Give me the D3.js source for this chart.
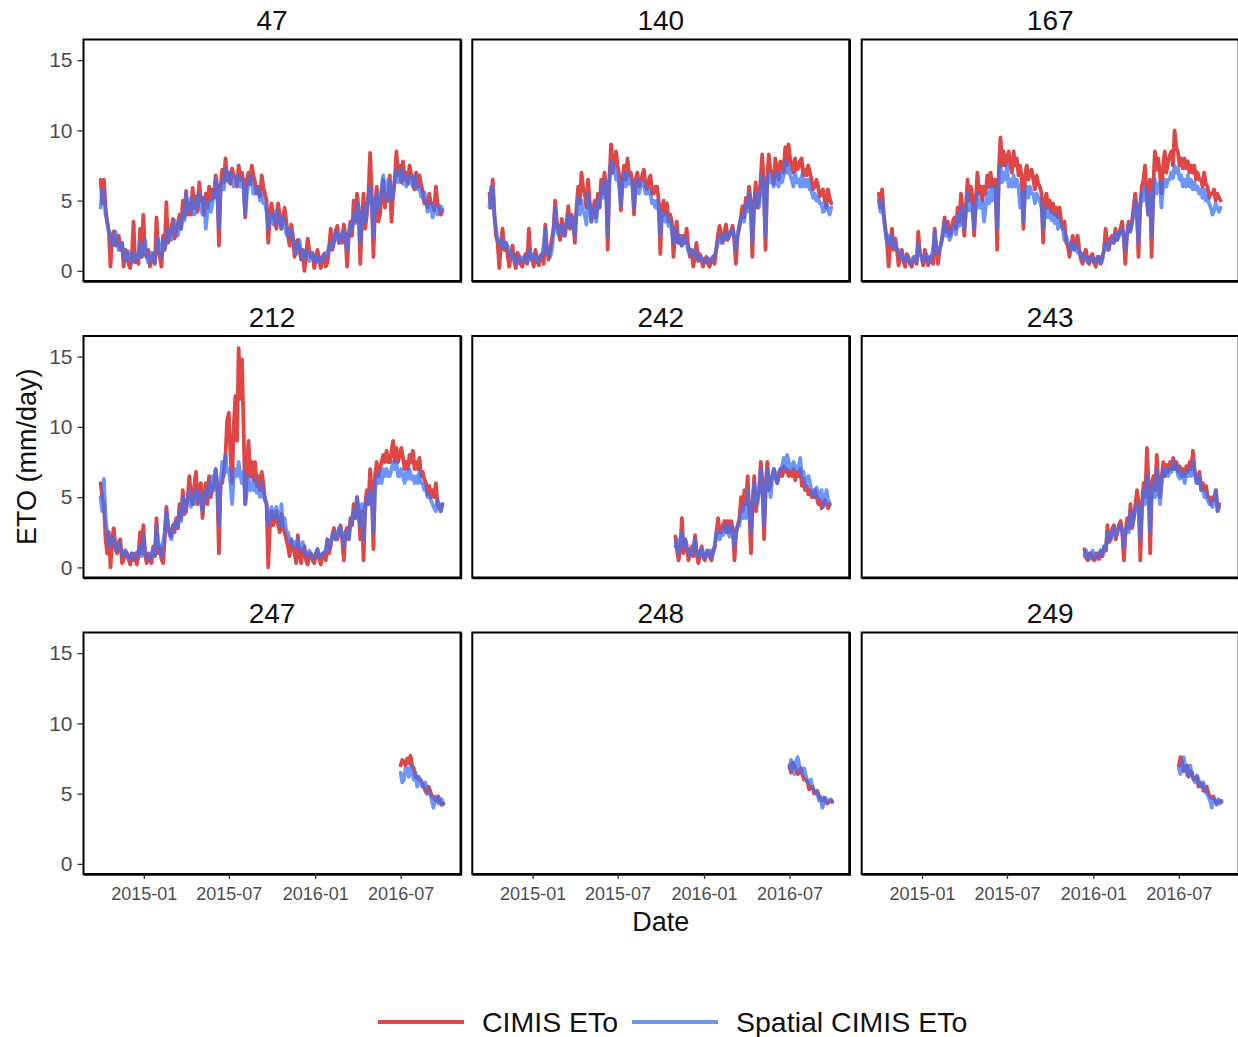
<!DOCTYPE html>
<html>
<head>
<meta charset="utf-8">
<script src="https://cdn.jsdelivr.net/npm/d3@7"></script>
<style>
  body { margin: 0; background: #fff; }
  svg { display: block; }
  text { font-family: "Liberation Sans", Arial, Helvetica, sans-serif; }
</style>
</head>
<body>
<svg id="chart" width="1238" height="1037"></svg>
<script>
// ---- Data: ETo (mm/day) per CIMIS station, 2014-10 to 2016-09 ----
// Each series has on-week readings (every 7 days from its start date)
// and mid-week readings (3.5 days after each on-week reading).
const stations = ["47", "140", "167", "212", "242", "243", "247", "248", "249"];
const seriesStart = ["2014-10-01", "2014-10-01", "2014-10-01", "2014-10-01",
                     "2015-11-01", "2015-12-13", "2016-07-01", "2016-07-01", "2016-07-01"];
const stepDays = 7;
const seriesNames = ["CIMIS ETo", "Spatial CIMIS ETo"];

const cimis47 = [6.5,6.5,3.5,0.3,2.8,2.2,1.5,0.3,1.3,0.2, 3.5,1.0,3.0,4.0,1.0,0.3,1.2,3.8,1.0,2.5,
  4.9,2.5,3.7,2.8,4.0,5.0,5.7,4.8,5.9,5.3, 6.3,5.2,5.5,6.0,5.8,6.8,1.8,7.2,8.0,7.0,
  7.3,6.7,7.5,7.0,3.8,7.0,7.5,6.3,6.0,6.8, 5.5,2.0,4.8,3.5,4.8,3.0,4.5,2.5,3.3,1.0,
  2.2,0.8,0.0,2.3,1.0,0.2,1.5,0.2,1.2,0.6, 3.0,2.0,3.2,2.5,3.3,0.3,3.5,5.0,5.5,0.5,
  5.5,4.0,8.4,1.0,6.0,4.0,6.5,5.5,6.8,5.5, 8.5,7.5,7.8,7.0,7.5,6.5,7.0,6.8,5.6,5.0,
  5.5,4.8,6.0,4.5,4.3];
const cimis47Mid = [4.8,4.5,2.8,2.5,1.8,2.5,2.0,1.5,0.5,1.0, 0.6,0.5,1.0,1.2,1.5,0.8,0.5,1.5,0.3,1.5,
  2.0,3.0,2.3,3.3,3.0,3.8,4.0,4.0,4.5,4.2, 5.0,4.0,4.5,5.0,5.2,6.0,6.0,6.3,6.5,6.2,
  6.8,6.0,6.5,6.3,6.5,6.2,6.8,5.5,5.3,6.0, 5.0,4.0,4.0,3.0,4.0,3.8,3.5,1.8,2.5,2.0,
  1.5,1.5,1.0,1.5,1.2,0.8,0.8,1.0,0.3,1.5, 1.5,2.8,2.0,2.0,2.5,2.5,2.5,3.5,4.5,3.5,
  3.0,5.5,5.5,4.5,3.5,5.5,4.5,5.0,3.5,6.5, 6.8,6.3,6.5,6.2,6.8,5.8,6.0,6.2,4.8,4.5,
  4.8,4.3,4.8,4.0];
const spatial47 = [4.5,5.5,3.5,2.5,2.3,2.0,1.6,1.2,1.0,0.9, 1.2,0.9,2.0,1.5,1.0,0.8,0.9,1.5,1.5,2.2,
  2.0,2.8,3.0,3.0,3.5,4.2,5.5,4.3,5.0,4.3, 5.5,4.0,3.0,5.0,4.8,6.5,3.0,6.5,7.3,6.3,
  6.8,6.2,6.5,6.6,4.0,6.2,6.3,5.5,5.8,5.5, 4.8,3.0,4.0,3.3,4.0,3.0,3.3,2.5,2.8,1.8,
  1.8,1.3,1.0,1.2,1.0,0.8,1.0,0.7,0.8,1.2, 2.0,2.3,2.5,2.3,2.8,1.5,3.3,4.0,4.8,2.0,
  4.5,4.5,6.0,2.5,5.5,5.0,6.8,5.0,6.2,5.3, 7.2,6.5,6.2,6.0,6.8,6.0,6.2,6.0,5.2,5.0,
  4.5,3.8,4.6,4.3,4.4];
const spatial47Mid = [5.8,4.0,2.8,1.8,2.8,1.5,2.0,0.7,1.4,0.6, 0.7,1.3,1.0,2.2,0.6,1.3,0.6,2.3,1.0,1.6,
  3.0,2.2,3.6,2.5,3.0,3.6,4.3,5.2,4.0,5.0, 4.5,5.2,4.3,4.2,5.5,5.5,5.8,5.8,6.5,7.0,
  6.0,6.8,6.0,5.8,5.5,6.8,5.5,6.0,5.0,4.8, 4.2,3.8,3.3,4.3,3.5,3.8,2.6,3.0,2.2,1.2,
  2.2,0.8,1.5,0.7,1.3,0.6,0.6,1.0,1.3,1.8, 1.6,2.8,2.0,2.8,2.2,2.6,3.0,3.4,4.0,4.0,
  3.5,5.3,4.5,4.5,4.5,6.0,5.5,6.5,5.0,6.5, 6.3,7.2,6.8,6.5,6.3,6.8,5.8,5.3,5.6,4.2,
  4.8,4.3,4.0,4.6];

const cimis140 = [5.5,6.5,2.5,0.2,3.0,2.0,0.3,1.8,0.2,1.0, 0.3,1.2,3.0,0.8,1.5,0.4,1.2,3.3,0.8,2.3,
  5.0,2.8,3.7,2.5,4.6,4.0,2.0,6.0,7.0,5.5, 6.5,3.5,5.0,5.5,6.5,7.0,1.5,9.0,8.0,7.5,
  4.3,7.5,8.0,7.0,4.0,7.0,6.3,7.2,5.8,6.8, 5.5,6.0,1.2,5.0,4.8,4.0,1.0,3.5,2.5,2.5,
  3.0,1.0,0.3,2.0,1.2,0.3,1.0,0.3,1.0,1.5, 3.2,2.0,3.3,2.5,3.2,0.5,3.0,4.6,5.2,6.0,
  1.0,6.3,5.0,8.3,1.5,8.3,7.0,8.0,6.5,7.5, 8.8,9.0,7.5,8.0,7.3,8.0,7.2,7.5,6.5,6.0,
  6.0,5.5,5.0,5.8,4.8];
const cimis140Mid = [4.5,4.0,2.0,2.0,1.5,1.2,1.0,0.8,1.3,0.5, 0.8,0.5,1.0,0.3,0.8,1.0,0.5,1.5,1.5,3.0,
  3.5,2.2,3.0,3.5,3.0,3.5,4.5,4.8,6.0,4.5, 5.0,4.2,3.8,4.5,5.5,6.0,6.5,7.0,8.5,6.8,
  6.5,6.5,6.8,6.3,6.5,6.0,6.8,6.0,6.5,5.5, 6.0,5.0,4.5,4.0,3.5,3.5,2.8,2.0,1.8,2.0,
  1.8,1.5,1.0,0.7,0.8,0.8,0.5,0.8,0.5,2.5, 2.5,2.8,2.2,2.8,2.2,2.5,3.8,3.8,4.5,5.0,
  4.5,4.5,6.5,6.0,6.5,7.2,6.2,7.0,7.8,7.0, 7.5,8.0,7.0,7.2,7.8,6.8,6.8,7.0,5.8,6.5,
  5.3,5.8,4.5,5.2];
const spatial140 = [4.5,6.0,3.0,2.0,2.3,2.0,1.5,1.0,0.7,0.8, 0.7,0.9,1.5,1.0,0.9,0.8,1.0,3.0,1.5,1.5,
  4.5,2.6,3.3,2.8,4.0,3.8,2.5,5.3,5.0,4.0, 5.5,3.5,4.3,5.0,6.0,6.5,2.5,7.8,7.5,6.8,
  4.6,7.0,7.0,6.5,4.5,6.5,6.0,6.3,5.5,5.5, 5.0,5.0,2.5,4.0,4.0,3.5,2.0,2.5,2.5,2.0,
  2.0,1.5,1.2,1.2,0.8,0.8,0.7,0.8,0.9,1.5, 2.5,2.5,2.7,2.5,3.0,1.5,3.3,4.0,4.8,5.5,
  2.0,5.5,4.5,6.8,2.5,7.0,6.5,7.0,6.0,6.3, 7.8,7.5,6.5,7.0,6.5,6.8,6.5,6.5,5.7,5.5,
  5.3,4.8,4.3,4.5,4.5];
const spatial140Mid = [6.0,4.0,2.2,1.8,1.6,1.8,0.9,1.2,0.5,1.0, 1.0,0.6,0.8,1.2,0.6,1.1,1.8,1.2,1.0,2.8,
  3.0,3.2,2.5,3.3,3.2,3.0,4.2,4.0,4.2,3.3, 4.5,4.5,3.5,4.5,5.2,6.0,6.5,7.0,6.5,6.0,
  6.3,6.0,6.2,6.0,5.8,5.5,6.3,5.5,5.8,4.8, 4.5,4.2,4.2,3.5,3.2,2.8,3.0,2.0,1.8,2.4,
  1.4,1.0,1.5,0.8,1.0,0.6,0.9,0.6,1.1,2.0, 2.0,2.2,2.4,2.8,2.4,2.5,3.6,3.5,4.2,4.5,
  4.8,4.8,5.8,5.5,6.0,6.3,6.0,6.3,7.0,6.8, 7.0,6.8,6.0,6.3,6.0,6.0,6.0,5.8,5.2,5.0,
  4.8,4.2,4.8,4.0];

const cimis167 = [5.5,5.8,3.0,0.3,3.0,2.3,0.4,1.5,0.3,1.0, 0.3,1.0,2.8,1.0,1.5,0.4,1.0,3.0,0.5,2.0,
  3.8,3.5,2.8,3.8,4.5,5.5,2.5,6.5,6.0,2.5, 7.0,6.0,6.0,6.8,7.0,6.5,1.5,9.5,8.5,8.0,
  7.5,8.5,8.0,7.5,3.0,7.5,7.0,6.5,6.8,6.0, 2.0,5.5,5.0,4.8,4.5,4.5,3.0,2.0,1.0,2.5,
  2.0,1.5,0.5,1.5,0.5,1.2,0.3,1.0,0.8,3.0, 1.5,2.5,3.0,2.5,3.5,0.5,3.5,3.5,5.5,1.0,
  6.0,7.5,4.0,1.0,8.5,8.0,5.5,8.5,7.8,8.5, 10.0,8.5,8.0,8.0,7.8,7.5,7.5,7.0,6.5,7.0,
  6.0,5.5,5.8,5.5,5.0];
const cimis167Mid = [4.5,4.0,2.0,2.0,1.5,1.5,1.0,0.7,1.2,0.5, 0.8,0.5,1.2,0.4,0.8,1.0,0.5,1.5,1.5,2.8,
  2.8,2.5,3.5,3.0,3.5,4.5,4.5,5.0,5.3,5.0, 5.5,5.0,5.5,6.0,6.0,6.5,7.0,7.5,7.5,8.5,
  7.0,7.5,6.8,6.5,6.8,6.5,7.2,5.8,6.2,5.5, 5.0,4.5,4.2,4.0,3.8,3.5,3.5,1.8,1.8,1.5,
  2.5,0.8,1.2,0.8,1.0,0.6,0.9,0.5,1.5,2.0, 2.3,2.0,2.2,3.0,2.5,2.5,2.8,4.5,4.5,4.5,
  6.5,5.5,6.5,6.0,7.2,7.0,7.5,7.0,8.2,7.5, 8.8,7.5,7.3,7.3,7.0,7.0,6.5,6.5,6.0,6.2,
  5.2,5.5,5.0,5.2];
const spatial167 = [5.0,5.0,2.8,2.5,2.5,2.0,1.5,1.2,0.8,0.8, 0.7,1.0,2.0,1.0,1.0,0.8,1.0,2.8,1.2,2.0,
  3.5,3.0,2.5,3.3,4.0,4.5,3.0,5.5,4.8,3.0, 5.5,4.5,3.5,5.5,6.0,6.0,3.0,7.5,7.0,7.5,
  6.5,6.8,6.5,4.5,3.5,6.0,6.0,5.5,5.5,5.0, 3.0,4.5,4.3,4.0,4.0,3.5,3.0,2.5,2.0,2.0,
  1.8,1.5,1.2,1.0,0.8,0.8,0.7,0.8,1.0,2.0, 1.8,2.3,2.7,2.5,3.0,1.5,3.3,3.3,5.0,2.0,
  5.5,6.0,4.0,2.5,6.5,6.0,4.5,6.5,6.5,7.0, 7.5,7.3,6.8,6.5,6.8,6.5,6.3,6.0,5.8,5.8,
  5.2,4.5,4.3,4.5,4.5];
const spatial167Mid = [4.2,3.8,2.0,1.8,1.7,1.5,1.0,0.7,1.1,0.5, 1.0,0.6,1.2,0.6,1.2,0.6,1.5,1.5,1.5,2.5,
  2.5,2.2,3.0,2.6,3.2,3.5,4.2,4.3,4.2,4.5, 4.5,5.0,4.5,4.8,5.0,5.5,6.5,6.3,6.5,6.0,
  6.0,6.0,6.0,5.5,5.5,5.2,5.5,4.8,5.2,4.5, 4.0,3.8,3.6,3.4,3.0,3.2,2.2,2.0,1.5,1.5,
  1.3,1.0,0.8,0.6,1.0,0.6,1.0,0.6,1.5,1.5, 2.0,2.0,2.2,2.8,2.4,2.5,2.8,4.0,4.2,4.5,
  5.0,5.0,5.5,5.0,5.5,6.3,6.0,6.0,6.5,6.6, 7.0,6.5,6.0,6.0,6.0,5.8,5.8,5.5,5.2,5.0,
  4.8,4.0,4.8,4.2];

const cimis212 = [6.0,4.5,1.0,0.0,2.8,1.0,2.0,0.5,1.0,0.2, 0.5,0.2,2.5,3.0,0.3,0.5,1.5,3.5,1.5,0.3,
  4.3,2.5,3.0,3.5,4.5,5.5,4.0,6.5,4.5,6.8, 5.8,3.5,6.0,6.5,5.5,7.0,1.0,6.0,8.0,11.0,
  6.0,12.2,15.6,14.8,4.5,9.0,7.5,7.5,6.5,6.8, 4.8,0.0,4.0,3.5,3.0,3.8,2.5,1.5,2.0,1.0,
  2.3,0.3,1.5,0.2,1.0,0.3,1.3,0.2,1.0,2.0, 1.5,2.8,2.0,3.0,0.5,2.8,3.5,4.5,5.0,2.0,
  0.5,5.5,7.0,1.3,7.5,7.0,8.0,8.3,7.5,9.0, 8.5,8.0,7.8,7.5,8.0,8.3,7.5,7.8,6.8,6.0,
  5.8,5.5,6.0,4.3,4.5];
const cimis212Mid = [5.0,2.0,2.5,2.0,1.5,1.8,0.3,1.2,0.6,1.0, 1.0,0.8,1.0,1.0,1.0,0.3,0.8,1.0,0.6,2.0,
  3.0,2.2,2.5,2.8,3.5,3.8,5.0,5.0,5.8,4.5, 6.0,5.0,4.5,5.0,6.0,5.5,6.0,7.0,10.5,8.0,
  10.0,9.0,12.0,10.0,7.0,6.5,6.2,5.8,5.5,6.0, 4.5,3.0,3.0,4.0,2.5,2.8,2.0,0.8,1.5,0.3,
  1.0,1.2,0.5,1.0,0.5,1.0,0.6,1.0,0.5,1.0, 2.3,2.0,2.5,2.0,2.5,2.0,3.0,3.5,4.0,4.0,
  4.5,4.5,5.5,6.5,6.5,7.5,7.5,7.5,8.3,7.5, 7.5,8.5,7.0,7.0,7.5,7.0,7.0,6.5,6.3,5.2,
  5.0,5.0,4.5,4.0];
const spatial212 = [5.0,6.3,2.5,1.8,2.0,1.5,1.5,1.0,0.9,0.8, 0.8,1.0,1.5,2.3,0.8,0.7,1.3,3.0,1.5,1.8,
  4.0,2.3,2.8,3.3,4.0,5.0,4.3,5.5,5.0,5.5, 5.3,4.0,5.5,6.0,6.5,7.0,3.0,7.5,8.0,7.0,
  4.5,7.0,7.5,6.0,4.5,6.5,6.0,6.3,5.5,6.0, 5.0,3.0,4.3,4.0,3.5,4.5,3.5,2.5,2.0,1.8,
  2.0,1.3,1.3,1.0,0.9,0.8,1.3,0.8,1.0,2.0, 1.8,2.5,2.3,2.8,1.5,2.5,3.0,4.0,5.0,3.0,
  2.0,5.0,5.5,2.5,6.5,6.8,7.0,7.0,6.5,7.5, 7.5,6.5,6.5,6.8,7.0,6.5,6.5,6.8,6.0,5.5,
  5.0,4.5,4.0,4.5,4.5];
const spatial212Mid = [4.0,3.5,1.5,2.2,1.2,1.8,0.8,1.2,0.6,1.0, 0.6,1.2,0.8,1.2,0.5,1.0,0.8,1.8,0.8,2.5,
  2.8,2.0,3.2,2.8,3.3,4.0,5.0,4.3,4.5,4.8, 4.5,5.0,5.0,5.3,5.5,6.0,6.0,6.5,6.8,6.0,
  6.5,6.5,6.5,6.8,5.5,5.5,5.5,5.3,5.0,5.0, 4.5,3.8,3.5,4.3,3.0,3.0,2.5,1.8,1.5,1.5,
  1.2,1.8,0.8,1.2,0.6,1.0,0.7,1.0,1.3,1.3, 2.2,2.0,2.8,2.2,2.5,2.0,3.5,3.5,4.0,4.5,
  4.0,4.5,5.0,5.5,6.0,6.0,6.5,6.5,7.0,7.0, 6.5,7.0,6.0,6.3,6.3,6.0,6.0,6.0,5.5,5.0,
  4.8,4.2,4.8,4.0];

const cimis242 = [2.2,0.5,3.5,2.0,0.5,1.5,2.3,0.3,1.5,0.5, 1.2,0.5,1.5,3.5,2.5,3.3,3.3,3.3,0.5,3.0,
  5.0,5.5,6.5,1.0,6.5,5.0,7.5,2.0,7.5,6.0, 7.0,6.0,7.0,7.2,7.0,6.8,7.0,6.8,7.0,6.3,
  5.8,5.5,5.0,5.0,4.8,4.5,4.5,4.5];
const cimis242Mid = [1.2,1.5,1.0,1.5,1.0,0.8,1.0,1.0,0.8,1.0, 0.8,1.2,2.5,2.5,3.0,2.5,2.5,2.8,2.5,3.5,
  4.0,4.5,4.0,4.5,4.0,5.5,6.0,6.0,5.5,6.5, 6.5,6.5,6.5,6.8,6.5,6.5,6.2,6.5,5.8,5.5,
  5.2,5.0,5.5,4.5,4.2,4.8,4.2];
const spatial242 = [1.5,1.0,2.5,2.0,1.3,1.0,2.0,0.8,1.3,0.8, 1.0,1.2,1.5,2.5,2.5,3.0,2.5,3.0,1.5,3.0,
  4.0,4.5,5.5,2.5,6.0,4.5,7.0,3.0,7.0,5.0, 7.0,6.0,7.0,7.8,8.0,7.0,7.5,7.2,7.8,6.8,
  6.3,6.0,5.5,5.7,5.0,4.3,5.5,4.5];
const spatial242Mid = [2.0,1.5,1.5,1.2,0.8,1.5,1.0,1.2,0.7,1.2, 0.7,1.0,2.5,2.0,2.3,3.0,2.2,2.5,2.5,3.0,
  3.5,3.5,4.0,4.5,5.0,5.5,5.5,5.5,6.0,6.5, 6.3,6.8,7.2,7.0,7.5,7.2,7.0,7.0,6.5,5.8,
  6.5,5.2,5.0,5.0,5.5,4.8,4.8];

const cimis243 = [1.3,0.5,1.0,0.5,1.0,1.2,1.5,3.0,2.0,3.0, 2.5,3.3,0.5,3.5,4.5,3.5,5.5,0.5,6.0,8.5,
  1.0,6.5,8.0,5.0,7.5,7.3,7.5,7.8,7.5,7.2, 7.0,7.2,7.5,8.3,6.3,6.8,6.0,5.8,5.0,5.0,
  5.5,4.5];
const cimis243Mid = [0.7,1.0,0.6,1.0,0.6,0.8,1.2,1.8,2.8,2.0, 3.0,2.5,2.5,2.8,2.8,4.5,4.5,4.5,5.0,6.0,
  6.0,5.5,6.0,6.5,6.5,6.8,7.0,7.0,6.8,6.5, 6.5,6.8,7.0,7.0,6.0,5.5,5.5,5.0,4.5,4.8,
  4.0];
const spatial243 = [0.8,0.8,1.0,0.8,0.8,1.2,1.5,2.5,2.0,2.8, 2.5,3.0,1.5,3.0,4.0,3.5,4.5,2.0,5.5,6.5,
  2.5,6.0,7.0,4.5,7.0,7.0,7.0,7.5,7.3,6.3, 6.5,6.8,7.0,7.5,6.0,6.5,5.5,5.3,4.5,4.3,
  5.5,4.3];
const spatial243Mid = [1.2,0.6,1.2,0.6,1.0,0.9,1.2,2.0,2.6,2.2, 2.8,2.5,2.5,2.5,3.0,4.2,4.0,4.0,4.5,5.5,
  5.5,5.0,5.5,6.0,6.5,6.5,6.8,7.0,6.5,6.8, 6.0,6.5,6.5,6.8,6.2,5.5,5.0,4.8,4.5,4.8,
  4.0];

const cimis247 = [7.0,7.3,7.5,7.7,6.8,6.2,6.0,5.5,5.0,5.2,4.8,4.5,4.4,4.3];
const cimis247Mid = [7.4,7.0,7.2,7.0,6.2,6.0,5.8,5.2,5.5,4.8,4.6,4.8,4.2];
const spatial247 = [6.5,6.0,6.8,7.0,6.0,5.5,6.0,5.5,5.3,5.0,4.0,4.8,4.5,4.3];
const spatial247Mid = [5.8,6.8,6.2,6.5,6.5,6.2,5.5,5.8,5.0,4.5,4.6,4.3,4.6];
const cimis248 = [7.0,7.2,6.8,6.5,6.3,6.0,5.3,5.5,5.0,4.8,4.5,4.5,4.4,4.4];
const cimis248Mid = [6.5,7.0,6.4,6.8,6.0,5.8,5.5,5.0,5.2,4.6,4.7,4.3,4.5];
const spatial248 = [6.8,7.0,7.3,7.0,6.5,6.3,5.8,5.5,5.2,4.5,4.0,4.7,4.5,4.5];
const spatial248Mid = [7.4,6.4,7.6,6.5,6.8,5.8,6.0,5.2,5.0,4.8,4.3,4.4,4.6];
const cimis249 = [7.0,7.2,6.8,6.2,6.5,6.0,5.5,5.7,5.2,5.0,4.7,4.5,4.4,4.4];
const cimis249Mid = [7.6,6.6,7.0,6.6,6.0,6.2,5.8,5.2,5.5,4.8,4.8,4.3,4.5];
const spatial249 = [6.8,7.2,6.8,6.5,6.3,5.8,6.0,5.5,5.3,4.8,4.0,4.5,4.6,4.5];
const spatial249Mid = [6.4,7.6,6.3,7.0,6.0,6.3,5.5,5.8,5.0,4.5,4.6,4.2,4.3];

const cimisValues = [cimis47, cimis140, cimis167, cimis212, cimis242, cimis243, cimis247, cimis248, cimis249];
const cimisMidValues = [cimis47Mid, cimis140Mid, cimis167Mid, cimis212Mid, cimis242Mid, cimis243Mid,
                        cimis247Mid, cimis248Mid, cimis249Mid];
const spatialValues = [spatial47, spatial140, spatial167, spatial212, spatial242, spatial243,
                       spatial247, spatial248, spatial249];
const spatialMidValues = [spatial47Mid, spatial140Mid, spatial167Mid, spatial212Mid, spatial242Mid,
                          spatial243Mid, spatial247Mid, spatial248Mid, spatial249Mid];

const xTickLabels = ["2015-01", "2015-07", "2016-01", "2016-07"];
const yTicks = [0, 5, 10, 15];
const dataRange = ["2014-10-01", "2016-09-30"];

// ---- Layout ----
const colX = [83.5, 472.3, 861.7];
const rowY = [39.5, 336, 632.5];
const pw = 377, ph = 241.5;
const colors = { cimis: "#DF4747", spatial: "#3E72F6" };
const spatialAlpha = 0.75;
const lineWidth = 3.8;
const fontAxis = "#4D4D4D";

const parse = d3.utcParse("%Y-%m-%d");
const parseMonth = d3.utcParse("%Y-%m");
const svg = d3.select("#chart");

// x domain: data extent expanded by 5% on each side
const d0 = parse(dataRange[0]), d1 = parse(dataRange[1]);
const pad = (d1 - d0) * 0.05;
const x = d3.scaleUtc().domain([new Date(+d0 - pad), new Date(+d1 + pad)]).range([0, pw]);
const y = d3.scaleLinear().domain([-0.72, 16.47]).range([ph, 0]);

const line = d3.line()
  .x(d => x(d.date))
  .y(d => y(d.v))
  .curve(d3.curveLinear);

// merge on-week and mid-week readings into one dated series
function toSeries(values, mids, start) {
  const s = parse(start);
  const out = [];
  values.forEach((v, i) => {
    out.push({ date: d3.utcDay.offset(s, i * stepDays), v });
    if (i < mids.length) {
      out.push({ date: d3.utcHour.offset(s, i * stepDays * 24 + stepDays * 12), v: mids[i] });
    }
  });
  return out;
}

const defs = svg.append("defs");
defs.append("clipPath").attr("id", "panel-clip")
  .append("rect").attr("x", 0).attr("y", 0).attr("width", pw).attr("height", ph);

stations.forEach((st, k) => {
  const c = k % 3, r = Math.floor(k / 3);
  const g = svg.append("g").attr("transform", `translate(${colX[c]},${rowY[r]})`);

  // strip label
  g.append("text")
    .attr("x", pw / 2).attr("y", -9.5)
    .attr("text-anchor", "middle")
    .attr("font-size", 28).attr("fill", "#111")
    .text(st);

  const plot = g.append("g").attr("clip-path", "url(#panel-clip)");
  plot.append("path")
    .datum(toSeries(cimisValues[k], cimisMidValues[k], seriesStart[k]))
    .attr("d", line)
    .attr("fill", "none")
    .attr("stroke", colors.cimis)
    .attr("stroke-width", lineWidth)
    .attr("stroke-linejoin", "round")
    .attr("stroke-linecap", "round");
  plot.append("path")
    .datum(toSeries(spatialValues[k], spatialMidValues[k], seriesStart[k]))
    .attr("d", line)
    .attr("fill", "none")
    .attr("stroke", colors.spatial)
    .attr("stroke-opacity", spatialAlpha)
    .attr("stroke-width", lineWidth)
    .attr("stroke-linejoin", "round")
    .attr("stroke-linecap", "round");

  // panel border
  g.append("rect")
    .attr("x", 0).attr("y", 0).attr("width", pw).attr("height", ph)
    .attr("fill", "none").attr("stroke", "#000").attr("stroke-width", 2);
  g.append("path")
    .attr("d", `M${pw + 0.6},0 V${ph + 0.6} H0`)
    .attr("fill", "none").attr("stroke", "#000").attr("stroke-width", 2.2);

  // y axis on the left column
  if (c === 0) {
    const ya = g.append("g").call(d3.axisLeft(y).tickValues(yTicks).tickSize(6).tickPadding(5));
    ya.select(".domain").remove();
    ya.selectAll("line").attr("stroke", "#333").attr("stroke-width", 1.3);
    ya.selectAll("text").attr("font-size", 21).attr("fill", fontAxis)
      .attr("font-family", "Liberation Sans, Arial, sans-serif");
  }
  // x axis on the bottom row
  if (r === 2) {
    const xa = g.append("g").attr("transform", `translate(0,${ph})`)
      .call(d3.axisBottom(x)
        .tickValues(xTickLabels.map(parseMonth))
        .tickFormat(d3.utcFormat("%Y-%m"))
        .tickSize(5).tickPadding(8));
    xa.select(".domain").remove();
    xa.selectAll("line").attr("stroke", "#333").attr("stroke-width", 1.3);
    xa.selectAll("text").attr("font-size", 18).attr("fill", fontAxis)
      .attr("font-family", "Liberation Sans, Arial, sans-serif");
  }
});

// axis titles
svg.append("text")
  .attr("transform", `translate(36,${rowY[1] + ph / 2}) rotate(-90)`)
  .attr("text-anchor", "middle")
  .attr("font-size", 27).attr("fill", "#111")
  .text("ETO (mm/day)");
svg.append("text")
  .attr("x", colX[1] + pw / 2).attr("y", 931)
  .attr("text-anchor", "middle")
  .attr("font-size", 27).attr("fill", "#111")
  .text("Date");

// legend
const legend = svg.append("g").attr("transform", "translate(378,1022)");
const legendItems = [
  { name: seriesNames[0], color: colors.cimis, alpha: 1, x: 0 },
  { name: seriesNames[1], color: colors.spatial, alpha: spatialAlpha, x: 254 }
];
legendItems.forEach(it => {
  legend.append("line")
    .attr("x1", it.x).attr("x2", it.x + 86)
    .attr("y1", 0).attr("y2", 0)
    .attr("stroke", it.color).attr("stroke-opacity", it.alpha).attr("stroke-width", 4);
  legend.append("text")
    .attr("x", it.x + 104).attr("y", 10)
    .attr("font-size", 28.5).attr("fill", "#111")
    .text(it.name);
});
</script>
</body>
</html>
